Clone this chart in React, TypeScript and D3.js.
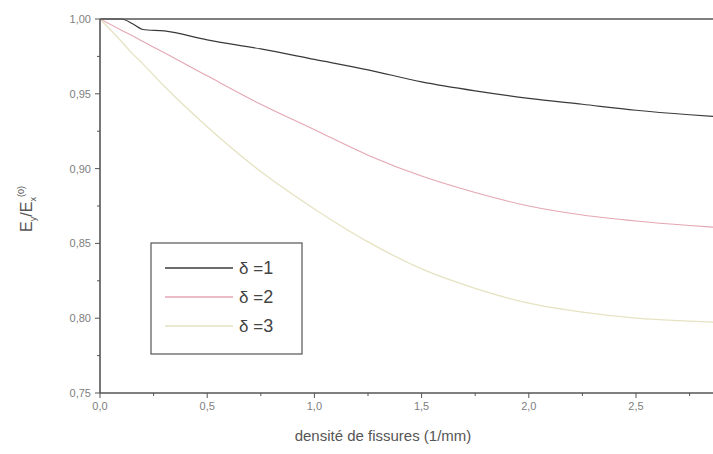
import React from "react";
import * as d3 from "d3";

// Crack density (1/mm)
const densite = [0, 0.1, 0.15, 0.2, 0.3, 0.5, 0.75, 1.0, 1.25, 1.5, 1.75, 2.0, 2.25, 2.5, 2.75, 2.9];
// Normalised modulus for each delta
const delta1 = [1.0, 1.0, 0.997, 0.993, 0.992, 0.986, 0.98, 0.973, 0.966, 0.958, 0.952, 0.947, 0.943, 0.939, 0.936, 0.9345];
const delta2 = [1.0, 0.9925, 0.989, 0.985, 0.9775, 0.962, 0.943, 0.926, 0.909, 0.895, 0.884, 0.875, 0.869, 0.865, 0.862, 0.8605];
const delta3 = [1.0, 0.985, 0.977, 0.97, 0.955, 0.928, 0.898, 0.873, 0.851, 0.833, 0.82, 0.81, 0.804, 0.8, 0.798, 0.7972];

const xTicks = [0, 0.5, 1.0, 1.5, 2.0, 2.5];
const xMinor = [0.25, 0.75, 1.25, 1.75, 2.25, 2.75];
const yTicks = [0.75, 0.8, 0.85, 0.9, 0.95, 1.0];
const yMinor = [0.775, 0.825, 0.875, 0.925, 0.975];

const series = [
  { label: "1", values: delta1, color: "#3a3a3a", width: 1.2 },
  { label: "2", values: delta2, color: "#e4a6b2", width: 1.1 },
  { label: "3", values: delta3, color: "#e6e2c2", width: 1.3 },
];

const W = 713;
const H = 454;
const left = 100;
const top = 19;
const bottom = 393;

const fmt = (v: number, d: number) => v.toFixed(d).replace(".", ",");

export default function App() {
  const x = d3.scaleLinear().domain([0, 2.5]).range([left, 636]);
  const y = d3.scaleLinear().domain([0.75, 1.0]).range([bottom, top]);
  const line = d3
    .line<number>()
    .x((_, i) => x(densite[i]))
    .y((v) => y(v))
    .curve(d3.curveMonotoneX);

  const axisColor = "#555";
  const tickText = "#808080";

  return (
    <svg
      width={W}
      height={H}
      style={{ position: "absolute", left: 0, top: 0, background: "#fff" }}
      fontFamily="Liberation Sans, Arial, sans-serif"
    >
      <defs>
        <clipPath id="plot">
          <rect x={left} y={top - 2} width={W - left} height={bottom - top + 4} />
        </clipPath>
      </defs>

      {/* curves */}
      <g clipPath="url(#plot)">
        {series.map((s) => (
          <path key={s.label} d={line(s.values) ?? ""} fill="none" stroke={s.color} strokeWidth={s.width} />
        ))}
      </g>

      {/* frame */}
      <line x1={left} x2={W} y1={top} y2={top} stroke={axisColor} strokeWidth={1.6} />
      <line x1={left} x2={W} y1={bottom} y2={bottom} stroke={axisColor} strokeWidth={1.3} />
      <line x1={left} x2={left} y1={top} y2={bottom} stroke={axisColor} strokeWidth={1.6} />

      {/* x ticks */}
      {xTicks.map((t) => (
        <g key={"x" + t}>
          <line x1={x(t)} x2={x(t)} y1={bottom} y2={bottom + 5} stroke={axisColor} strokeWidth={1} />
          <text x={x(t)} y={bottom + 17} textAnchor="middle" fontSize={11} fill={tickText}>
            {fmt(t, 1)}
          </text>
        </g>
      ))}
      {xMinor.map((t) => (
        <line key={"xm" + t} x1={x(t)} x2={x(t)} y1={bottom} y2={bottom + 3} stroke={axisColor} strokeWidth={1} />
      ))}

      {/* y ticks */}
      {yTicks.map((t) => (
        <g key={"y" + t}>
          <line x1={left - 5} x2={left} y1={y(t)} y2={y(t)} stroke={axisColor} strokeWidth={1} />
          <text x={left - 9} y={y(t) + 4} textAnchor="end" fontSize={11} fill={tickText}>
            {fmt(t, 2)}
          </text>
        </g>
      ))}
      {yMinor.map((t) => (
        <line key={"ym" + t} x1={left - 3} x2={left} y1={y(t)} y2={y(t)} stroke={axisColor} strokeWidth={1} />
      ))}

      {/* axis titles */}
      <text x={383} y={441} textAnchor="middle" fontSize={15} fill="#555">
        densité de fissures (1/mm)
      </text>
      <text transform="translate(32,209) rotate(-90)" textAnchor="middle" fontSize={16} fill="#555">
        E<tspan fontSize={9} dy={4}>y</tspan>
        <tspan dy={-4}>/E</tspan>
        <tspan fontSize={9} dy={4}>x</tspan>
        <tspan fontSize={9} dy={-12}>(0)</tspan>
      </text>

      {/* legend */}
      <rect x={151} y={243} width={151} height={111} fill="#fff" stroke="#555" strokeWidth={1.2} />
      {series.map((s, i) => {
        const ly = 268 + i * 29;
        return (
          <g key={"l" + s.label}>
            <line x1={165} x2={233} y1={ly} y2={ly} stroke={s.color} strokeWidth={1.3} />
            <text x={239} y={ly + 6} fontSize={17} fill="#444">
              δ =<tspan fontSize={18}>{s.label}</tspan>
            </text>
          </g>
        );
      })}
    </svg>
  );
}
